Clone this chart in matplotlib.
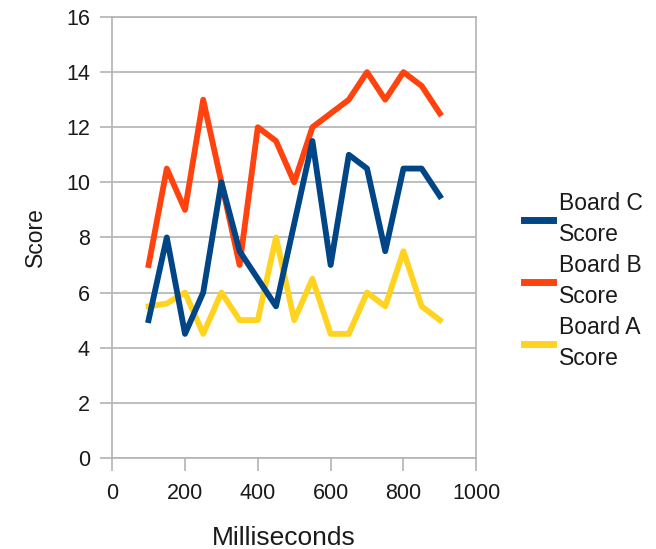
import matplotlib
matplotlib.use("Agg")
import matplotlib.pyplot as plt

plt.rcParams['font.family'] = ['Liberation Sans', 'DejaVu Sans']

milliseconds = [100, 150, 200, 250, 300, 350, 400, 450, 500, 550, 600, 650, 700, 750, 800, 850, 900]
board_c = [5, 8, 4.5, 6, 10, 7.5, 6.5, 5.5, 8.5, 11.5, 7, 11, 10.5, 7.5, 10.5, 10.5, 9.5]
board_b = [7, 10.5, 9, 13, 10, 7, 12, 11.5, 10, 12, 12.5, 13, 14, 13, 14, 13.5, 12.5]
board_a = [5.5, 5.6, 6, 4.5, 6, 5, 5, 8, 5, 6.5, 4.5, 4.5, 6, 5.5, 7.5, 5.5, 5]

x_ticks = [0, 200, 400, 600, 800, 1000]
y_ticks = [0, 2, 4, 6, 8, 10, 12, 14, 16]

grid_color = '#b3b3b3'
text_color = '#1a1a1a'

fig = plt.figure(figsize=(6.56, 5.49), dpi=100)
ax = fig.add_axes([0.171, 0.166, 0.555, 0.803])

lw = 4.2
la, = ax.plot(milliseconds, board_a, color='#ffd320', lw=lw, label='Board A\nScore')
lb, = ax.plot(milliseconds, board_b, color='#ff420e', lw=lw, label='Board B\nScore')
lc, = ax.plot(milliseconds, board_c, color='#004586', lw=lw, label='Board C\nScore')

ax.set_xlim(0, 1000)
ax.set_ylim(0, 16)
ax.set_xticks(x_ticks)
ax.set_yticks(y_ticks)
ax.grid(axis='y', color=grid_color, lw=1.2)
ax.set_axisbelow(True)
for s in ax.spines.values():
    s.set_color(grid_color)
    s.set_linewidth(1.2)
ax.tick_params(axis='both', colors=grid_color, length=9, width=1.2, labelsize=15.5,
               labelcolor=text_color)
ax.tick_params(axis='x', pad=9)
ax.tick_params(axis='y', pad=7)
ax.set_xlabel('Milliseconds', fontsize=19, color=text_color, va='baseline')
ax.set_ylabel('Score', fontsize=16.5, color=text_color, labelpad=14)
ax.xaxis.set_label_coords(0.47, -0.198)

leg = fig.legend(handles=[lc, lb, la], loc='center left', bbox_to_anchor=(0.768, 0.488),
                 frameon=False, fontsize=16.5, handlelength=1.25, handletextpad=0.25,
                 labelspacing=0.35, labelcolor=text_color)
for t in leg.get_texts():
    t.set_linespacing(1.45)
for h in leg.legend_handles:
    h.set_linewidth(5)

fig.savefig('out.png', dpi=100)
